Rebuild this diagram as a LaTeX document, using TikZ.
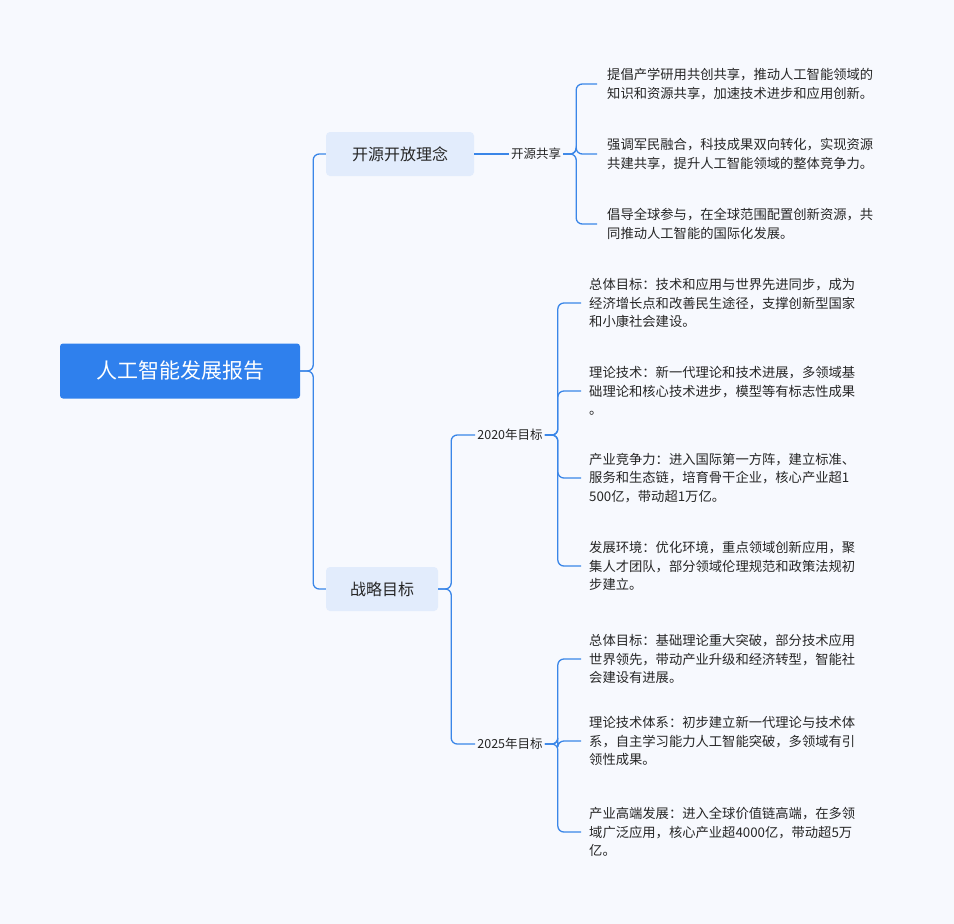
\documentclass[tikz,border=0pt]{standalone}
\usepackage{fontspec}
\setmainfont{Noto Sans CJK SC}
\begin{document}
\begin{tikzpicture}[x=1pt,y=-1pt,
  link/.style={draw=lineblue,line width=1.3pt,rounded corners=6pt},
  rootbox/.style={fill=rootblue,text=white,rounded corners=3pt,minimum width=240,minimum height=55,font=\fontsize{21}{24}\selectfont},
  lvone/.style={fill=lightblue,text=black!85,rounded corners=4pt,minimum height=44,font=\fontsize{16}{19}\selectfont},
  lvtwo/.style={text=black!85,font=\fontsize{12.5}{15}\selectfont,inner sep=2pt},
  item/.style={anchor=west,text=black!85,align=left,inner sep=0pt,font=\fontsize{13.3}{18.5}\selectfont}]
\definecolor{lineblue}{HTML}{3A86E8}
\definecolor{rootblue}{HTML}{2F80ED}
\definecolor{lightblue}{HTML}{E2ECFC}
\definecolor{bg}{HTML}{F7F9FE}
\fill[bg] (0,0) rectangle (954,924);
\useasboundingbox (0,0) rectangle (954,924);
\node[rootbox] (root) at (180,371) {人工智能发展报告};
\node[lvone,minimum width=148] (a) at (400,154) {开源开放理念};
\node[lvone,minimum width=112] (b) at (382,589) {战略目标};
\node[lvtwo] (a1) at (536,154) {开源共享};
\node[lvtwo] (b1) at (510,435) {2020年目标};
\node[lvtwo] (b2) at (510,744) {2025年目标};
\node[item] (a11) at (607,84) {提倡产学研用共创共享，推动人工智能领域的\\知识和资源共享，加速技术进步和应用创新。};
\node[item] (a12) at (607,154) {强调军民融合，科技成果双向转化，实现资源\\共建共享，提升人工智能领域的整体竞争力。};
\node[item] (a13) at (607,224) {倡导全球参与，在全球范围配置创新资源，共\\同推动人工智能的国际化发展。};
\node[item] (c1) at (589,303) {总体目标：技术和应用与世界先进同步，成为\\经济增长点和改善民生途径，支撑创新型国家\\和小康社会建设。};
\node[item] (c2) at (589,391) {理论技术：新一代理论和技术进展，多领域基\\础理论和核心技术进步，模型等有标志性成果\\。};
\node[item] (c3) at (589,478) {产业竞争力：进入国际第一方阵，建立标准、\\服务和生态链，培育骨干企业，核心产业超1\\500亿，带动超1万亿。};
\node[item] (c4) at (589,566) {发展环境：优化环境，重点领域创新应用，聚\\集人才团队，部分领域伦理规范和政策法规初\\步建立。};
\node[item] (d1) at (589,659) {总体目标：基础理论重大突破，部分技术应用\\世界领先，带动产业升级和经济转型，智能社\\会建设有进展。};
\node[item] (d2) at (589,741) {理论技术体系：初步建立新一代理论与技术体\\系，自主学习能力人工智能突破，多领域有引\\领性成果。};
\node[item] (d3) at (589,832) {产业高端发展：进入全球价值链高端，在多领\\域广泛应用，核心产业超4000亿，带动超5万\\亿。};
\foreach \c in {a,b} \draw[link] (root.east) -- ++(13,0) |- (\c.west);
\draw[link] (a.east) -- (a1.west);
\foreach \c in {a11,a12,a13} \draw[link] (a1.east) -- ++(13,0) |- ([xshift=-10]\c.west);
\foreach \c in {b1,b2} \draw[link] (b.east) -- ++(13,0) |- (\c.west);
\foreach \c in {c1,c2,c3,c4} \draw[link] (b1.east) -- ++(13,0) |- ([xshift=-8]\c.west);
\foreach \c in {d1,d2,d3} \draw[link] (b2.east) -- ++(13,0) |- ([xshift=-8]\c.west);
\end{tikzpicture}
\end{document}
